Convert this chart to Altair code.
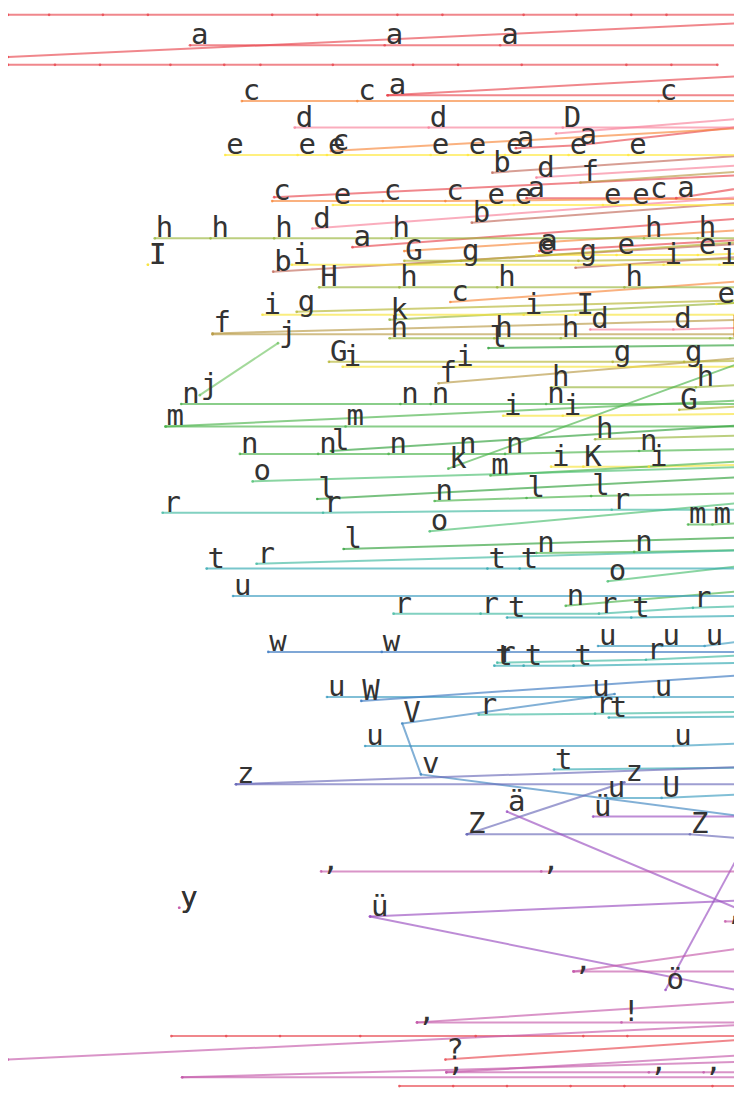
import altair as alt
import pandas as pd

# ---- data (screen-like units) ----
GROUPS = []
XS = []
YS = []
LABELS = []

def add(g, xs, ys, labels):
    GROUPS.append(g); XS.append(xs); YS.append(ys); LABELS.append(labels)

# red
add("a", [0, 42, 97, 143, 270, 316, 398, 444, 527, 581, 637, 673, 760], [7]*13, [""]*13)
add("a", [0, 760], [50, 15], ["", ""])
add("a", [186, 385, 503, 760], [38, 38, 38, 38], ["a", "a", "a", ""])
add("a", [0, 48, 94, 166, 221, 258, 332, 414, 460, 525, 632, 678, 725], [58]*13, [""]*13)
add("a", [388, 760], [89, 69], ["a", ""])
add("a", [388, 760], [89, 89], ["", ""])
add("a", [519, 583, 760], [143, 140, 120], ["a", "a", ""])
add("a", [272, 760], [193, 170], ["", ""])
add("a", [530, 683, 760], [194, 194, 182], ["a", "a", ""])
add("a", [352, 760], [244, 214], ["a", ""])
add("a", [543, 760], [248, 236], ["a", ""])
add("a", [167, 223, 278, 360, 478, 588, 633, 760], [1049]*8, [""]*8)
add("a", [400, 455, 510, 575, 630, 720, 760], [1100]*7, [""]*7)
add("a", [447, 760], [1073, 1052], ["?", ""])
# orange
add("c", [239, 357, 665, 760], [95, 95, 95, 95], ["c", "c", "c", ""])
add("c", [330, 760], [146, 122], ["c", ""])
add("c", [270, 383, 447, 655, 760], [197, 197, 197, 195, 195], ["c", "c", "c", "c", ""])
add("c", [452, 760], [300, 278], ["c", ""])
add("c", [405, 760], [248, 226], ["", ""])
# pink
add("d", [293, 430, 567, 760], [122, 122, 122, 122], ["d", "d", "D", ""])
add("d", [311, 760], [225, 192], ["d", ""])
add("d", [540, 760], [173, 160], ["d", ""])
add("d", [595, 680, 760], [328, 328, 326], ["d", "d", ""])
add("d", [560, 760], [128, 112], ["", ""])
# brown
add("b", [495, 760], [168, 150], ["b", ""])
add("b", [474, 760], [219, 198], ["b", ""])
add("b", [271, 760], [269, 240], ["b", ""])
add("b", [580, 760], [265, 253], ["", ""])
# yellow e
add("e", [222, 296, 326, 432, 470, 508, 573, 634, 760], [150]*9, ["e", "e", "e", "e", "e", "e", "e", "e", ""])
add("e", [332, 489, 517, 608, 637, 760], [201]*6, ["e", "e", "e", "e", "e", ""])
add("e", [540, 622, 705, 760], [252, 252, 252, 250], ["e", "e", "e", ""])
add("e", [724, 760], [302, 300], ["e", ""])
# tan f
add("f", [585, 760], [178, 166], ["f", ""])
add("f", [209, 760], [332, 318], ["f", ""])
add("f", [209, 760], [333, 333], ["", ""])
add("f", [440, 760], [383, 356], ["f", ""])
# olive g
add("g", [405, 463, 583, 760], [258, 258, 258, 256], ["G", "g", "g", ""])
add("g", [405, 760], [262, 238], ["", ""])
add("g", [295, 760], [310, 298], ["g", ""])
add("g", [328, 618, 691, 760], [361, 361, 361, 360], ["G", "g", "g", ""])
add("g", [686, 760], [410, 406], ["G", ""])
# yellow-green h
add("h", [150, 207, 272, 392, 650, 705, 760], [235]*7, ["h", "h", "h", "h", "h", "h", ""])
add("h", [318, 400, 500, 630, 760], [285]*5, ["H", "h", "h", "h", ""])
add("h", [390, 497, 565, 738, 760], [337]*5, ["h", "h", "h", "h", ""])
add("h", [555, 703, 760], [387, 387, 384], ["h", "h", ""])
add("h", [600, 760], [440, 436], ["h", ""])
add("h", [390, 760], [318, 300], ["k", ""])
# yellow i
add("i", [260, 527, 580, 760], [313, 313, 313, 313], ["i", "i", "I", ""])
add("i", [290, 670, 727, 760], [262, 262, 262, 262], ["i", "i", "i", ""])
add("i", [342, 457, 760], [366, 366, 366], ["i", "i", ""])
add("i", [506, 567, 760], [416, 416, 414], ["i", "i", ""])
add("i", [555, 588, 655, 760], [468, 468, 468, 466], ["i", "K", "i", ""])
add("i", [143, 143], [262, 262], ["I", "I"])
# light green j
add("j", [196, 276], [395, 342], ["j", "j"])
# green
add("n", [177, 401, 432, 550, 760], [404]*5, ["n", "n", "n", "n", ""])
add("n", [161, 345, 760], [427, 427, 427], ["m", "m", ""])
add("n", [161, 760], [427, 400], ["", ""])
add("n", [237, 317, 389, 460, 508, 645, 760], [455, 455, 455, 455, 455, 452, 450], ["n", "n", "n", "n", "n", "n", ""])
add("l", [330, 760], [452, 425], ["l", ""])
add("l", [491, 760], [347, 344], ["l", ""])
add("n", [450, 760], [470, 358], ["k", ""])
add("n", [493, 760], [477, 462], ["m", ""])
add("o", [250, 760], [483, 468], ["o", ""])
add("l", [316, 760], [501, 478], ["l", ""])
add("n", [436, 530, 596, 760], [503, 500, 498, 495], ["n", "l", "l", ""])
add("o", [431, 760], [534, 504], ["o", ""])
add("l", [343, 760], [552, 540], ["l", ""])
add("n", [540, 640, 760], [556, 555, 553], ["n", "n", ""])
add("o", [613, 760], [585, 568], ["o", ""])
add("n", [570, 760], [610, 594], ["n", ""])
add("n", [695, 720, 760], [527, 527, 525], ["m", "m", ""])
# teal-green r
add("r", [158, 322, 617, 760], [515, 515, 512, 512], ["r", "r", "r", ""])
add("r", [254, 760], [567, 553], ["r", ""])
add("r", [394, 483, 604, 700, 760], [618, 618, 618, 612, 610], ["r", "r", "r", "r", ""])
add("r", [500, 652, 760], [668, 665, 660], ["r", "r", ""])
add("r", [481, 600, 760], [721, 720, 718], ["r", "r", ""])
# teal t
add("t", [203, 490, 523, 760], [572]*4, ["t", "t", "t", ""])
add("t", [510, 637, 760], [622, 622, 620], ["t", "t", ""])
add("t", [497, 527, 578, 760], [671, 671, 671, 668], ["t", "t", "t", ""])
add("t", [614, 760], [724, 723], ["t", ""])
add("t", [558, 760], [777, 775], ["t", ""])
# blue-teal u
add("u", [230, 760], [600, 600], ["u", ""])
add("u", [603, 668, 712, 760], [651, 651, 651, 645], ["u", "u", "u", ""])
add("u", [326, 596, 660, 760], [703]*4, ["u", "u", "u", ""])
add("u", [365, 680, 760], [753, 753, 750], ["u", "u", ""])
add("u", [612, 668, 760], [806, 806, 802], ["u", "U", ""])
# blue w / v
add("w", [266, 382, 760], [657, 657, 657], ["w", "w", ""])
add("w", [361, 760], [707, 680], ["W", ""])
add("v", [620, 403, 422, 760], [700, 730, 782, 826], ["", "V", "v", ""])
# indigo z
add("z", [233, 760], [792, 792], ["z", ""])
add("z", [233, 760], [792, 774], ["", ""])
add("z", [469, 697, 760], [843, 843, 848], ["Z", "Z", ""])
add("z", [469, 630], [843, 790], ["", "z"])
# purple
add("ü", [598, 760], [825, 825], ["ü", ""])
add("ü", [510, 760], [820, 925], ["ä", ""])
add("ü", [370, 760], [927, 910], ["ü", ""])
add("ü", [370, 760], [927, 1005], ["", ""])
add("ü", [672, 760], [1002, 840], ["ö", ""])
# magenta punctuation
add(",", [320, 545, 760], [881, 881, 881], [",", ",", ""])
add(",", [733, 760], [932, 932], [",", ""])
add(",", [578, 760], [983, 983], [",", ""])
add(",", [578, 760], [983, 958], ["", ""])
add(",", [418, 627, 760], [1035, 1035, 1035], [",", "!", ""])
add(",", [418, 760], [1035, 1013], ["", ""])
add(",", [0, 760], [1073, 1037], ["", ""])
add(",", [448, 655, 711, 760], [1086]*4, [",", ",", ",", ""])
add(",", [448, 760], [1086, 1068], ["", ""])
add(",", [178, 760], [1091, 1075], ["", ""])
add(",", [178, 760], [1091, 1091], ["", ""])
add(",", [175, 175], [918, 918], ["y", "y"])

GROUP_DOMAIN = ["a", "b", "c", "d", "e", "f", "g", "h", "i", "j", "n", "l", "o", "r", "t", "u", "w", "v", "z", "ü", ","]
GROUP_COLORS = ["#e8474f", "#c26a5a", "#f7873a", "#f7819a", "#ffe83a", "#b89a45", "#b5b532",
                "#98b53a", "#f8e43a", "#72c464", "#4bb34b", "#2fa03a", "#4cbf70", "#3fb8a0",
                "#2fa8b0", "#3d9cc0", "#3a78c0", "#3f86c0", "#6a6ab8", "#9a4fc0", "#c45aaa"]

rows = []
for sid, (g, xs, ys, labs) in enumerate(zip(GROUPS, XS, YS, LABELS)):
    for k, (x, y, lab) in enumerate(zip(xs, ys, labs)):
        rows.append({"sid": sid, "group": g, "idx": k, "x": x, "y": y, "label": lab})
df = pd.DataFrame(rows)

xs = alt.X("x:Q", scale=alt.Scale(domain=[0, 742], nice=False, zero=False), axis=None)
ys = alt.Y("y:Q", scale=alt.Scale(domain=[0, 1104], nice=False, zero=False, reverse=True), axis=None)
col = alt.Color("group:N", scale=alt.Scale(domain=GROUP_DOMAIN, range=GROUP_COLORS), legend=None)

base = alt.Chart(df)
lines = base.mark_line(clip=True, strokeWidth=2, opacity=0.65).encode(
    x=xs, y=ys, color=col, detail="sid:N", order="idx:Q")
points = base.mark_circle(clip=True, size=7, opacity=0.8).encode(x=xs, y=ys, color=col)
texts = base.transform_filter("datum.label != ''").mark_text(
    clip=True, align="left", baseline="alphabetic", dx=1, dy=-1,
    font="DejaVu Sans Mono", fontSize=29, color="#333333").encode(x=xs, y=ys, text="label:N")

chart = alt.layer(lines, points, texts).properties(
    width=726, height=1082, padding=0,
    autosize=alt.AutoSizeParams(type="fit", contains="padding")
).configure_view(stroke=None)

chart.save("out.html", embed_options={"renderer": "svg", "actions": False})
